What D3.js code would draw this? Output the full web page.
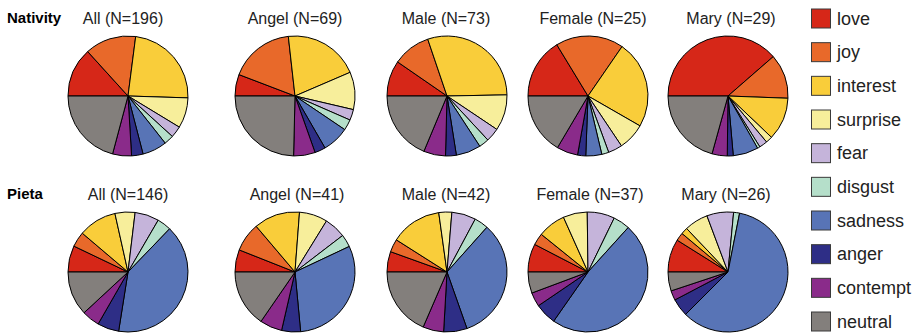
<!DOCTYPE html>
<html>
<head>
<meta charset="utf-8">
<script src="https://cdn.jsdelivr.net/npm/d3@7"></script>
<style>
  html, body { margin: 0; padding: 0; background: #fff; }
  svg { display: block; font-family: "Liberation Sans", Arial, sans-serif; }
</style>
</head>
<body>
<svg id="chart" width="920" height="333"></svg>
<script>
// Emotion categories, in slice order (clockwise from 9 o'clock)
const emotions = ["love", "joy", "interest", "surprise", "fear", "disgust", "sadness", "anger", "contempt", "neutral"];
const emotionColors = ["#d62718", "#e8692a", "#f9cd3a", "#f7ee9b", "#c5b4da", "#b5dfca", "#5874b6", "#2e2e86", "#8a2b8a", "#837f7c"];

const groups = ["All", "Angel", "Male", "Female", "Mary"];
const rowNames = ["Nativity", "Pieta"];
const nativityN = [196, 69, 73, 25, 29];
const pietaN = [146, 41, 42, 37, 26];

// Share of responses per emotion (percent)
const nativityAll    = [13.3, 13.8, 23.5, 8.2, 3.1, 2.6, 6.6, 3.1, 5.1, 20.9];
const nativityAngel  = [5.8, 17.4, 20.3, 10.1, 2.9, 2.9, 7.2, 2.9, 5.8, 24.6];
const nativityMale   = [9.6, 10.2, 29.9, 9.7, 3.7, 2.7, 6.7, 2.9, 5.9, 18.7];
const nativityFemale = [16.3, 18.3, 23.7, 7.3, 3.8, 1.9, 4.3, 2.2, 5.7, 16.5];
const nativityMary   = [38.6, 12.0, 11.5, 1.8, 2.2, 0.7, 6.8, 1.6, 4.1, 20.7];

const pietaAll    = [7.1, 4.1, 10.3, 5.4, 6.5, 3.8, 40.3, 5.8, 4.8, 11.9];
const pietaAngel  = [6.0, 7.8, 12.4, 7.6, 5.8, 3.4, 30.5, 5.1, 6.0, 15.4];
const pietaMale   = [5.5, 3.5, 13.8, 3.5, 6.5, 3.8, 33.0, 6.3, 5.6, 18.5];
const pietaFemale = [7.6, 3.2, 7.5, 6.5, 7.4, 4.5, 48.0, 5.8, 3.8, 5.7];
const pietaMary   = [8.9, 2.2, 1.8, 6.4, 7.2, 1.6, 59.4, 4.8, 2.6, 5.1];

const rows = [
  { name: rowNames[0], ns: nativityN, series: [nativityAll, nativityAngel, nativityMale, nativityFemale, nativityMary] },
  { name: rowNames[1], ns: pietaN,    series: [pietaAll, pietaAngel, pietaMale, pietaFemale, pietaMary] }
];

const svg = d3.select("#chart");
const color = d3.scaleOrdinal().domain(emotions).range(emotionColors);

// layout
const pieX = [128, 295, 447, 588, 728];
const titleX = [[123, 295, 446, 593, 731], [128, 297, 446, 590, 726]];
const rowY = [96, 272];
const titleY = [24, 200];
const radius = 60;

const pie = d3.pie()
  .sort(null)
  .value(d => d.value)
  .startAngle(-Math.PI / 2)
  .endAngle(3 * Math.PI / 2);
const arc = d3.arc().innerRadius(0).outerRadius(radius);

rows.forEach((row, ri) => {
  svg.append("text")
    .attr("x", 7)
    .attr("y", titleY[ri] - 1)
    .attr("font-size", 15)
    .attr("font-weight", "bold")
    .attr("fill", "#000")
    .text(row.name);

  row.series.forEach((vals, gi) => {
    const data = emotions.map((e, i) => ({ emotion: e, value: vals[i] }));
    const g = svg.append("g").attr("transform", `translate(${pieX[gi]},${rowY[ri]})`);
    g.selectAll("path")
      .data(pie(data))
      .join("path")
      .attr("d", arc)
      .attr("fill", d => color(d.data.emotion))
      .attr("stroke", "#000")
      .attr("stroke-width", 1)
      .attr("stroke-linejoin", "round");

    svg.append("text")
      .attr("x", titleX[ri][gi])
      .attr("y", titleY[ri])
      .attr("text-anchor", "middle")
      .attr("font-size", 16)
      .attr("fill", "#222")
      .text(`${groups[gi]} (N=${row.ns[gi]})`);
  });
});

// legend
const legendY = d3.scalePoint().domain(emotions).range([8.5, 311.5]);
const legend = svg.append("g");
const items = legend.selectAll("g")
  .data(emotions)
  .join("g")
  .attr("transform", d => `translate(811,${legendY(d)})`);
items.append("rect")
  .attr("x", 0.5).attr("y", 0.5)
  .attr("width", 19).attr("height", 19)
  .attr("fill", d => color(d))
  .attr("stroke", "#3a3a3a")
  .attr("stroke-width", 1);
items.append("text")
  .attr("x", 26)
  .attr("y", 10)
  .attr("dy", "0.35em")
  .attr("font-size", 18)
  .attr("fill", "#222")
  .text(d => d);
</script>
</body>
</html>
